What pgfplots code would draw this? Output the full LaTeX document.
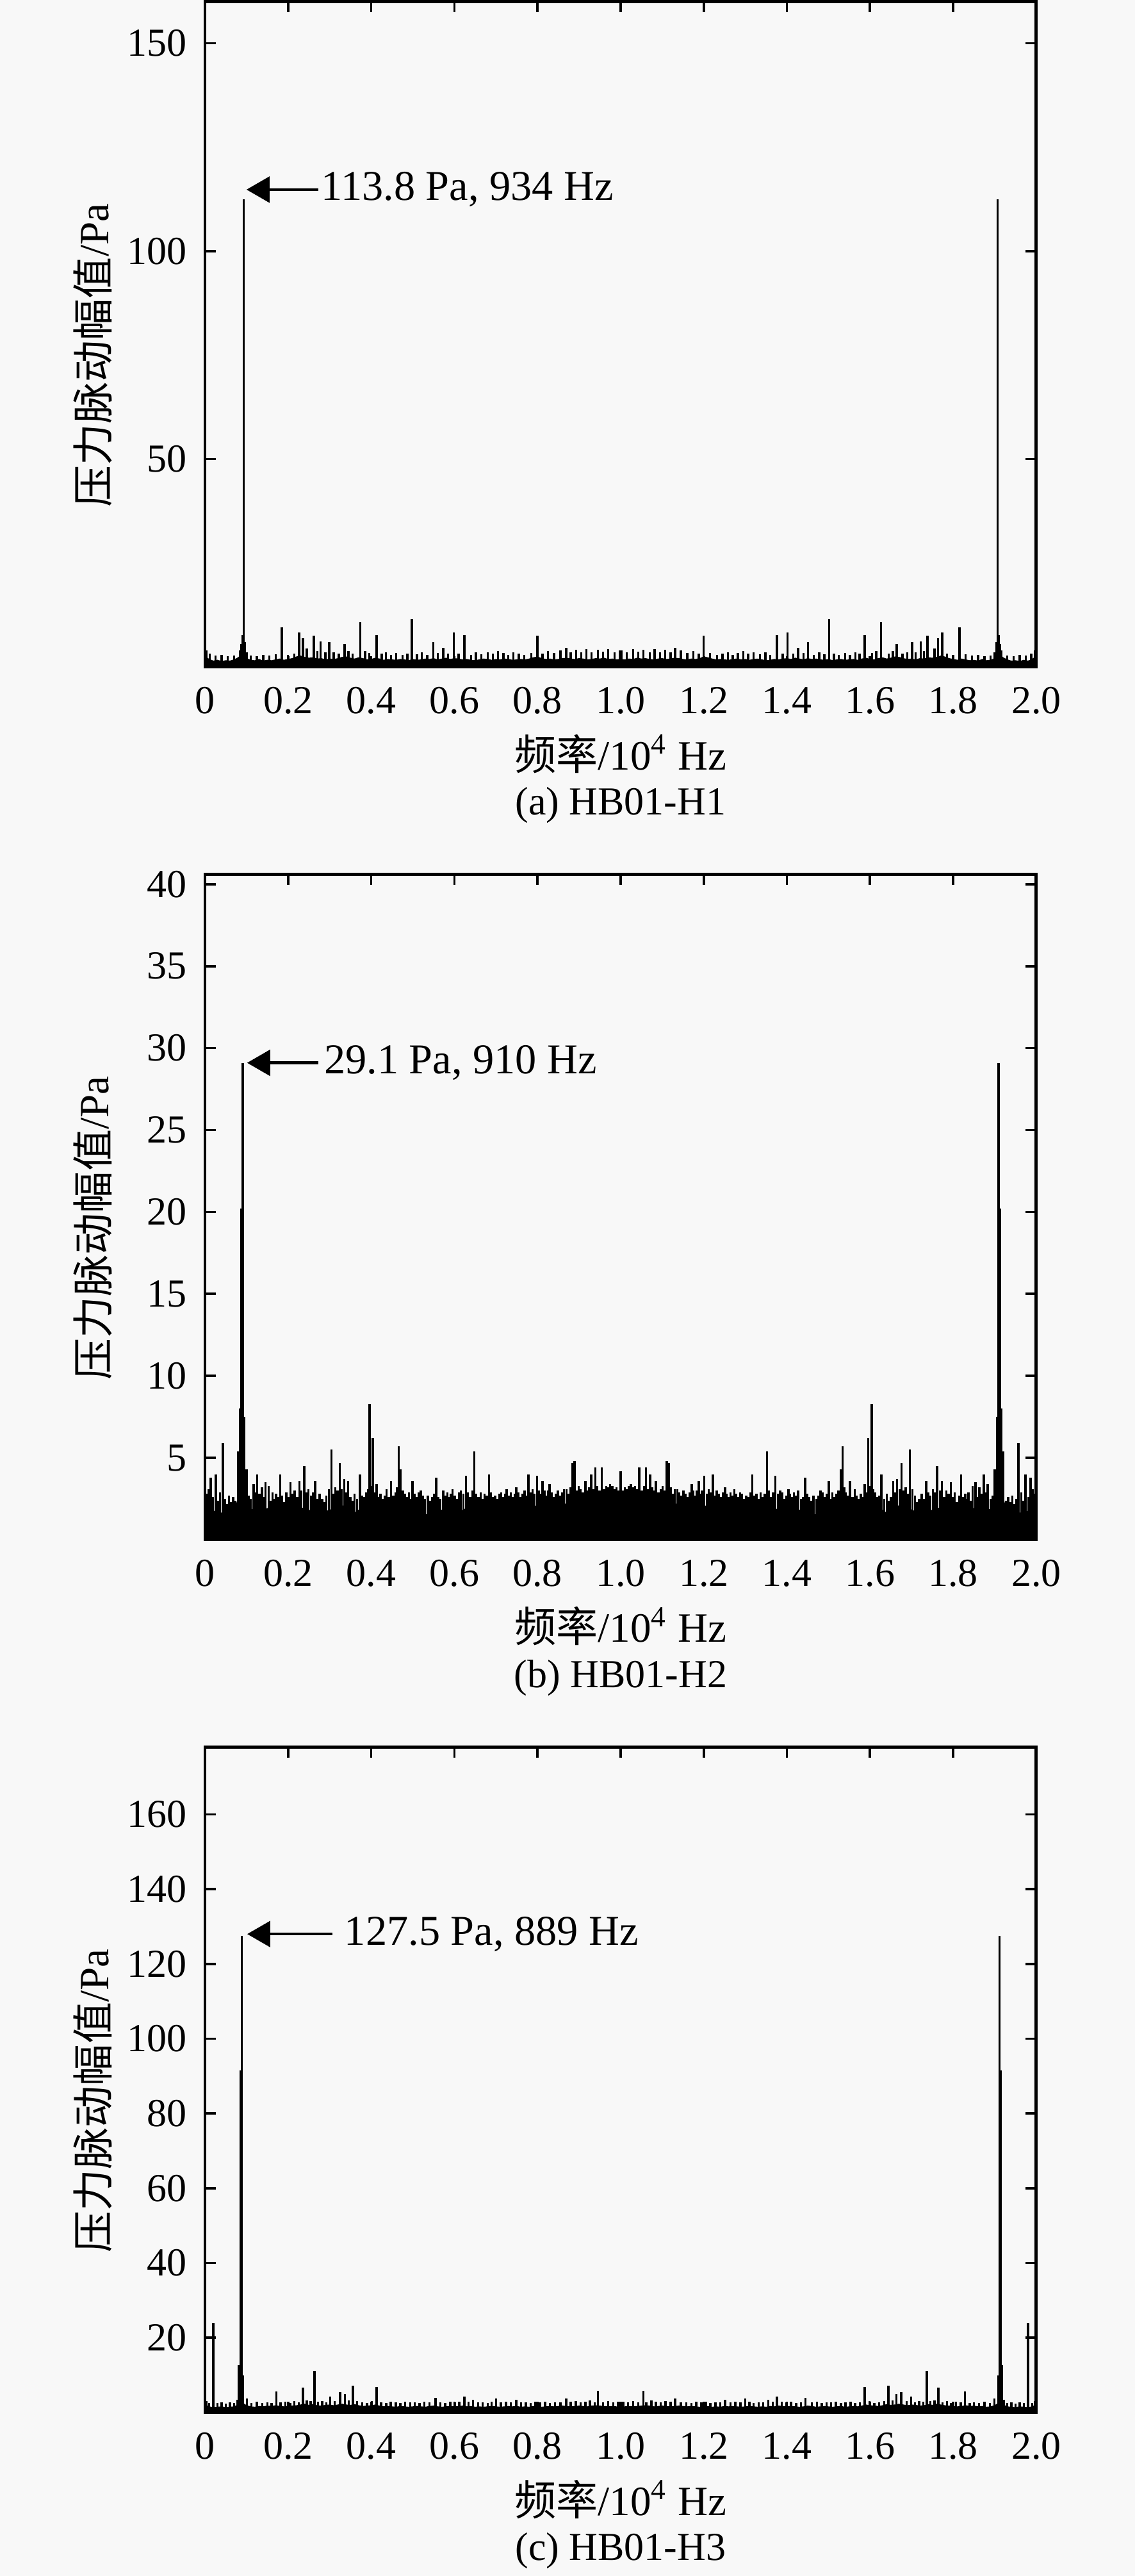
\documentclass[border=0pt]{standalone}
\usepackage{fontspec}
\setmainfont{Liberation Serif}
\newfontfamily\cjk{Noto Sans CJK SC}
\usepackage{pgfplots}
\pgfplotsset{compat=1.18}
\usepackage{pgfplotstable}
\usetikzlibrary{arrows.meta}
\definecolor{bgc}{RGB}{248,248,248}

% ---------------- panel (a) ----------------
\pgfplotstableread{
x y
0.00 2.5
0.01 1.8
0.02 1.4
0.03 1.6
0.04 1.3
0.05 1.5
0.06 1.4
0.07 1.7
0.08 2.2
0.09 3.0
0.10 2.0
0.11 1.6
0.12 1.5
0.13 1.8
0.14 1.4
0.15 1.6
0.16 1.5
0.17 1.7
0.18 1.9
0.19 1.6
0.20 1.8
0.21 2.0
0.22 2.4
0.23 2.6
0.24 2.3
0.25 2.1
0.26 2.2
0.27 1.9
0.28 2.0
0.29 1.7
0.30 1.9
0.31 1.8
0.32 2.0
0.33 2.3
0.34 2.4
0.35 2.1
0.36 1.9
0.37 2.2
0.38 2.0
0.39 1.7
0.40 1.8
0.41 2.1
0.42 1.9
0.43 1.6
0.44 1.8
0.45 1.7
0.46 1.6
0.47 1.8
0.48 1.7
0.49 1.5
0.50 1.8
0.51 1.6
0.52 1.7
0.53 1.9
0.54 1.8
0.55 2.0
0.56 1.7
0.57 1.9
0.58 2.1
0.59 1.8
0.60 2.0
0.61 1.9
0.62 1.7
0.63 1.8
0.64 1.6
0.65 1.5
0.66 1.7
0.67 1.9
0.68 1.8
0.69 1.6
0.70 1.8
0.71 1.7
0.72 1.9
0.73 1.8
0.74 1.6
0.75 1.7
0.76 1.8
0.77 1.7
0.78 1.9
0.79 2.2
0.80 2.4
0.81 2.0
0.82 1.8
0.83 1.9
0.84 1.7
0.85 1.8
0.86 2.0
0.87 2.1
0.88 1.9
0.89 1.8
0.90 2.0
0.91 1.9
0.92 1.7
0.93 1.8
0.94 2.0
0.95 1.9
0.96 2.1
0.97 1.8
0.98 1.9
0.99 1.7
1.00 1.8
}\abase

\pgfplotstableread{
x y
0.000 6.8
0.003 4.0
0.012 3.2
0.025 2.8
0.040 2.9
0.055 2.6
0.070 2.7
0.084 4.0
0.087 5.5
0.0905 7.7
0.0934 112.5
0.0965 6.0
0.100 3.5
0.110 2.8
0.125 2.6
0.140 3.0
0.155 2.7
0.170 3.1
0.185 9.5
0.200 3.0
0.215 3.2
0.2265 8.3
0.236 6.9
0.245 4.5
0.262 7.5
0.270 3.8
0.278 6.2
0.290 3.5
0.299 6.0
0.310 3.6
0.322 3.3
0.336 5.5
0.345 3.8
0.355 3.2
0.374 10.8
0.385 3.9
0.395 3.4
0.413 7.7
0.425 3.2
0.435 3.5
0.448 2.9
0.460 3.4
0.475 3.0
0.487 3.3
0.498 11.5
0.510 3.1
0.522 3.6
0.535 3.0
0.549 6.0
0.560 3.4
0.573 4.6
0.585 3.2
0.599 8.3
0.610 3.3
0.624 7.7
0.640 3.0
0.652 3.5
0.665 3.1
0.680 3.6
0.693 3.2
0.705 3.8
0.718 3.4
0.730 3.0
0.742 3.5
0.755 3.2
0.768 2.9
0.785 3.4
0.800 7.5
0.812 3.3
0.825 3.9
0.840 3.4
0.855 4.0
0.869 4.6
0.880 3.6
0.893 4.2
0.905 3.5
0.918 4.3
0.930 3.6
0.945 4.1
0.958 3.7
0.970 4.3
0.985 3.5
0.998 4.0
}\aspk

% ---------------- panel (b) ----------------
\pgfplotstableread{
x y
0.00 2.2
0.01 1.9
0.02 1.7
0.03 1.8
0.04 1.6
0.05 1.5
0.06 1.5
0.07 1.6
0.08 2.5
0.09 2.5
0.10 2.0
0.11 1.8
0.12 1.9
0.13 1.7
0.14 1.8
0.15 1.9
0.16 1.7
0.17 1.6
0.18 1.7
0.19 1.6
0.20 1.7
0.21 1.8
0.22 1.9
0.23 1.8
0.24 2.0
0.25 1.8
0.26 1.7
0.27 1.6
0.28 1.5
0.29 1.7
0.30 1.8
0.31 1.9
0.32 2.1
0.33 2.0
0.34 2.2
0.35 1.7
0.36 1.6
0.37 1.8
0.38 1.7
0.39 1.9
0.40 2.0
0.41 2.1
0.42 1.8
0.43 1.9
0.44 1.8
0.45 1.9
0.46 2.0
0.47 2.1
0.48 1.9
0.49 1.7
0.50 1.8
0.51 1.7
0.52 1.6
0.53 1.5
0.54 1.6
0.55 1.7
0.56 1.6
0.57 1.8
0.58 1.7
0.59 1.8
0.60 1.7
0.61 1.6
0.62 1.8
0.63 1.9
0.64 2.0
0.65 1.8
0.66 1.6
0.67 1.7
0.68 1.8
0.69 1.9
0.70 1.8
0.71 1.7
0.72 1.8
0.73 1.9
0.74 1.8
0.75 1.9
0.76 1.8
0.77 1.9
0.78 2.0
0.79 2.1
0.80 2.0
0.81 2.1
0.82 1.9
0.83 2.0
0.84 1.9
0.85 2.0
0.86 2.1
0.87 2.2
0.88 2.3
0.89 2.2
0.90 2.1
0.91 2.0
0.92 2.2
0.93 2.3
0.94 2.2
0.95 2.4
0.96 2.6
0.97 2.7
0.98 2.8
0.99 2.7
1.00 2.6
}\bbase

\pgfplotstableread{
x y
0.000 6.9
0.005 2.8
0.009 3.1
0.014 3.8
0.019 2.6
0.026 4.0
0.031 2.4
0.036 2.9
0.043 5.9
0.048 2.5
0.053 2.2
0.058 2.7
0.063 2.3
0.068 2.6
0.073 2.4
0.079 5.4
0.084 8.0
0.088 20.2
0.091 29.1
0.094 7.5
0.100 4.3
0.105 2.7
0.110 2.5
0.117 3.4
0.121 2.9
0.126 4.0
0.131 2.8
0.137 3.2
0.142 2.6
0.146 3.5
0.153 3.3
0.158 2.4
0.163 2.9
0.167 2.5
0.171 2.8
0.176 2.6
0.181 4.0
0.186 2.7
0.191 2.3
0.196 2.9
0.201 2.6
0.206 3.5
0.211 2.8
0.216 3.0
0.222 2.6
0.227 3.6
0.232 3.0
0.239 4.5
0.244 2.9
0.249 3.1
0.255 2.7
0.260 2.9
0.265 3.6
0.270 2.5
0.276 2.8
0.282 2.5
0.287 2.3
0.292 2.7
0.298 3.1
0.304 5.5
0.309 2.8
0.314 3.2
0.319 3.0
0.324 4.7
0.329 3.1
0.335 3.7
0.340 2.9
0.344 3.6
0.350 2.6
0.355 2.4
0.360 2.8
0.366 2.5
0.373 4.0
0.378 2.7
0.383 2.6
0.388 2.9
0.392 3.1
0.396 8.3
0.401 3.3
0.404 6.2
0.409 2.9
0.413 3.4
0.417 2.6
0.422 2.8
0.427 2.5
0.432 2.7
0.437 3.1
0.442 2.6
0.448 3.6
0.453 2.7
0.458 2.9
0.462 3.2
0.466 5.7
0.471 4.3
0.476 3.0
0.481 2.8
0.486 2.6
0.491 2.9
0.495 2.5
0.499 3.6
0.504 2.8
0.509 2.6
0.514 2.9
0.519 3.0
0.524 2.7
0.529 2.5
0.536 2.7
0.541 2.4
0.546 2.6
0.551 2.8
0.556 3.8
0.561 2.6
0.566 2.5
0.573 3.0
0.578 2.7
0.583 2.9
0.588 2.6
0.592 2.8
0.596 3.1
0.601 2.7
0.606 2.5
0.611 2.9
0.616 3.0
0.622 2.8
0.628 3.9
0.633 2.9
0.638 2.6
0.643 3.0
0.648 5.4
0.653 2.8
0.658 2.6
0.663 2.9
0.668 2.5
0.673 2.8
0.678 2.7
0.683 4.0
0.688 2.9
0.693 2.6
0.698 2.7
0.703 2.5
0.708 2.8
0.713 2.9
0.718 2.6
0.722 2.8
0.726 3.1
0.731 2.7
0.736 2.9
0.741 2.6
0.745 2.8
0.749 3.2
0.754 2.9
0.759 2.6
0.764 2.8
0.769 3.0
0.773 2.7
0.778 4.0
0.783 2.9
0.788 3.1
0.793 2.8
0.799 3.9
0.804 3.0
0.808 2.8
0.812 3.6
0.817 3.0
0.822 2.7
0.826 3.0
0.829 3.4
0.834 2.9
0.839 2.6
0.844 2.8
0.849 3.0
0.854 2.7
0.859 2.9
0.864 3.1
0.870 3.1
0.875 2.8
0.880 3.2
0.884 4.7
0.889 4.8
0.894 3.0
0.899 3.3
0.904 3.1
0.909 2.9
0.915 3.6
0.920 3.0
0.924 3.2
0.929 4.0
0.934 3.1
0.939 4.4
0.944 3.3
0.949 3.0
0.955 4.4
0.960 3.1
0.965 3.3
0.970 3.2
0.975 3.4
0.980 3.3
0.985 3.1
0.990 3.2
0.995 3.0
1.000 4.2
}\bspk

% ---------------- panel (c) ----------------
\pgfplotstableread{
x y
0.00 2.0
0.01 1.5
0.02 1.3
0.03 1.4
0.04 1.5
0.05 1.3
0.06 1.4
0.07 1.5
0.08 2.0
0.09 2.5
0.10 1.8
0.11 1.5
0.12 1.4
0.13 1.6
0.14 1.5
0.15 1.7
0.16 1.6
0.17 1.8
0.18 1.6
0.19 1.5
0.20 1.6
0.21 1.7
0.22 1.8
0.23 2.0
0.24 2.2
0.25 1.9
0.26 2.1
0.27 1.8
0.28 1.7
0.29 1.9
0.30 2.0
0.31 1.8
0.32 2.0
0.33 2.2
0.34 2.0
0.35 1.9
0.36 2.1
0.37 1.8
0.38 1.6
0.39 1.7
0.40 1.8
0.41 2.0
0.42 1.7
0.43 1.5
0.44 1.6
0.45 1.5
0.46 1.4
0.47 1.6
0.48 1.5
0.49 1.4
0.50 1.5
0.51 1.6
0.52 1.5
0.53 1.4
0.54 1.6
0.55 1.7
0.56 1.5
0.57 1.4
0.58 1.5
0.59 1.6
0.60 1.5
0.61 1.6
0.62 1.7
0.63 1.5
0.64 1.6
0.65 1.4
0.66 1.5
0.67 1.4
0.68 1.5
0.69 1.6
0.70 1.5
0.71 1.4
0.72 1.5
0.73 1.6
0.74 1.5
0.75 1.6
0.76 1.4
0.77 1.5
0.78 1.4
0.79 1.6
0.80 1.5
0.81 1.4
0.82 1.5
0.83 1.6
0.84 1.5
0.85 1.6
0.86 1.7
0.87 1.6
0.88 1.5
0.89 1.6
0.90 1.7
0.91 1.6
0.92 1.5
0.93 1.7
0.94 1.8
0.95 1.7
0.96 1.6
0.97 1.5
0.98 1.6
0.99 1.5
1.00 1.6
}\cbase

\pgfplotstableread{
x y
0.000 8.3
0.004 3.0
0.010 2.6
0.020 24.0
0.030 2.5
0.040 2.8
0.050 2.4
0.060 2.7
0.070 2.5
0.078 3.5
0.082 12.7
0.0855 91.5
0.0889 127.5
0.092 10.0
0.101 3.8
0.112 2.6
0.125 2.9
0.138 2.5
0.150 2.8
0.160 2.6
0.172 5.6
0.182 2.7
0.193 2.9
0.205 2.6
0.215 3.0
0.226 2.8
0.2355 6.7
0.245 3.2
0.2545 3.0
0.2635 11.2
0.272 2.9
0.282 3.1
0.292 2.8
0.301 4.3
0.312 3.0
0.325 5.5
0.337 4.9
0.346 3.2
0.356 7.2
0.366 3.0
0.378 2.8
0.390 2.6
0.401 3.1
0.413 6.9
0.424 2.8
0.436 2.6
0.447 2.9
0.459 2.7
0.470 2.6
0.482 2.9
0.494 2.7
0.505 2.8
0.516 2.6
0.528 2.9
0.540 2.7
0.555 3.9
0.566 2.8
0.578 2.6
0.590 2.9
0.601 2.7
0.612 2.9
0.624 4.3
0.634 2.9
0.645 3.5
0.657 2.7
0.668 2.8
0.680 2.6
0.690 2.9
0.700 3.8
0.712 2.7
0.724 2.9
0.736 2.8
0.749 3.5
0.760 2.7
0.772 2.8
0.784 2.6
0.795 2.9
0.806 2.7
0.818 2.9
0.830 2.6
0.842 2.8
0.855 2.7
0.869 3.8
0.880 2.9
0.892 3.1
0.904 2.8
0.915 2.9
0.926 3.2
0.938 2.8
0.945 5.9
0.958 2.8
0.970 3.0
0.982 2.7
0.994 2.9
}\cspk

\tikzset{arr/.style={line width=0.7pt, -{Triangle[length=5.8pt,width=6.5pt]}}}

\pgfplotsset{
  spec/.style={
    scale only axis, width=209.35pt, height=167.5pt,
    anchor=south west,
    xmin=0, xmax=2, ymin=0,
    xtick={0,0.2,0.4,0.6,0.8,1.0,1.2,1.4,1.6,1.8,2.0},
    xticklabels={0,0.2,0.4,0.6,0.8,1.0,1.2,1.4,1.6,1.8,2.0},
    tick align=inside, major tick length=2.7pt,
    tick style={black, line width=0.6pt},
    axis line style={line width=0.8pt},
    xticklabel style={yshift=-1.5pt},
    yticklabel style={xshift=-1.1pt},
    minor tick num=0,
    clip mode=individual,
    tick label style={font=\fontsize{10}{12}\selectfont},
  },
  base/.style={fill=black, draw=black, line width=0.3pt, mark=none},
  comb/.style={ycomb, black, line width=0.55pt, mark=none},
}

\newcommand{\ylab}{\node[rotate=90, font=\fontsize{10.5}{12}\selectfont] at ([xshift=-28.3pt,yshift=-5.3pt]rel axis cs:0,0.5) {{\cjk 压力脉动幅值}/Pa};}
\newcommand{\xlab}[1]{\node[font=\fontsize{10.5}{12}\selectfont] at ([yshift=-21.8pt]rel axis cs:0.5,0) {{\cjk 频率}/10\textsuperscript{4} Hz};
\node[font=\fontsize{10}{12}\selectfont] at ([yshift=-34.8pt]rel axis cs:0.5,0) {#1};}

\begin{document}
\begin{tikzpicture}
\fill[bgc] (0,0) rectangle (285.81pt,648.39pt);
\path[use as bounding box] (0,0) rectangle (285.81pt,648.39pt);

% (a)
\begin{axis}[spec, at={(51.61pt,480.48pt)}, ymax=160,
  ytick={50,100,150}, yticklabels={50,100,150}]
\addplot[base] table[x=x,y=y]{\abase} \closedcycle;
\addplot[base] table[x expr=2-\thisrow{x},y=y]{\abase} \closedcycle;
\addplot[comb] table[x=x,y=y]{\aspk};
\addplot[comb] table[x expr=2-\thisrow{x},y=y]{\aspk};
\draw[arr] (axis cs:0.2727,114.8) -- (axis cs:0.100,114.8);
\node[anchor=west, inner sep=0pt, font=\fontsize{10.7}{12}\selectfont] at (axis cs:0.278,114.8) {113.8 Pa, 934 Hz};
\ylab
\xlab{(a) HB01-H1}
\end{axis}

% (b)
\begin{axis}[spec, at={(51.61pt,260.81pt)}, ymax=40.6,
  ytick={5,10,15,20,25,30,35,40}, yticklabels={5,10,15,20,25,30,35,40}]
\addplot[base] table[x=x,y=y]{\bbase} \closedcycle;
\addplot[base] table[x expr=2-\thisrow{x},y=y]{\bbase} \closedcycle;
\addplot[comb] table[x=x,y=y]{\bspk};
\addplot[comb] table[x expr=2-\thisrow{x},y=y]{\bspk};
\draw[arr] (axis cs:0.272,29.1) -- (axis cs:0.1014,29.1);
\node[anchor=west, inner sep=0pt, font=\fontsize{10.7}{12}\selectfont] at (axis cs:0.285,29.1) {29.1 Pa, 910 Hz};
\ylab
\xlab{(b) HB01-H2}
\end{axis}

% (c)
\begin{axis}[spec, at={(51.61pt,41.13pt)}, ymax=178,
  ytick={20,40,60,80,100,120,140,160}, yticklabels={20,40,60,80,100,120,140,160}]
\addplot[base] table[x=x,y=y]{\cbase} \closedcycle;
\addplot[base] table[x expr=2-\thisrow{x},y=y]{\cbase} \closedcycle;
\addplot[comb] table[x=x,y=y]{\cspk};
\addplot[comb] table[x expr=2-\thisrow{x},y=y]{\cspk};
\draw[arr] (axis cs:0.3074,128.0) -- (axis cs:0.1017,128.0);
\node[anchor=west, inner sep=0pt, font=\fontsize{10.7}{12}\selectfont] at (axis cs:0.334,128.0) {127.5 Pa, 889 Hz};
\ylab
\xlab{(c) HB01-H3}
\end{axis}
\end{tikzpicture}
\end{document}
